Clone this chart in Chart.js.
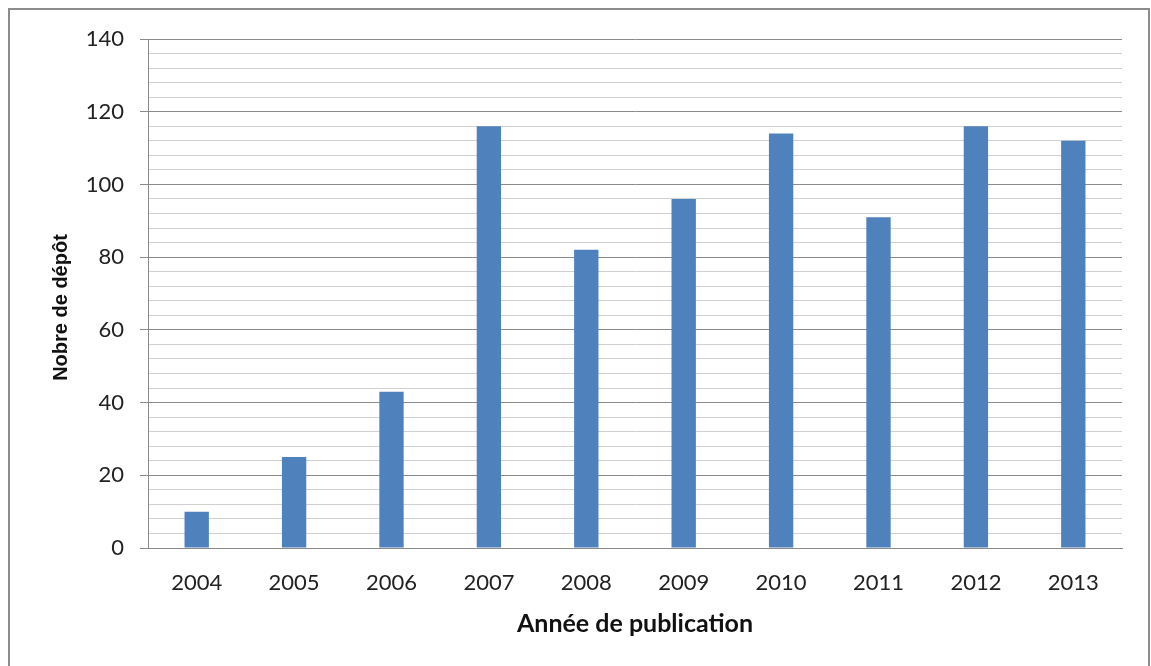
<!DOCTYPE html>
<html>
<head>
<meta charset="utf-8">
<script src="https://cdn.jsdelivr.net/npm/chart.js@4"></script>
<style>
  html, body { margin: 0; padding: 0; background: #fff; }
  .wrap { position: relative; width: 1151px; height: 666px; overflow: hidden; }
  .frame { position: absolute; left: 8px; top: 8px; width: 1138px; height: 700px; border: 2px solid #8c8c8c; }
  canvas { position: absolute; left: 0; top: 0; }
</style>
</head>
<body>
<div class="wrap">
  <div class="frame"></div>
  <canvas id="chart" width="1151" height="666"></canvas>
</div>
<script>
  const years = ["2004", "2005", "2006", "2007", "2008", "2009", "2010", "2011", "2012", "2013"];
  const deposits = [10, 25, 43, 116, 82, 96, 114, 91, 116, 112];
  const yTicks = [0, 20, 40, 60, 80, 100, 120, 140];
  const yTitle = "Nobre de dépôt";
  const xTitle = "Année de publication";

  const fontFamily = "Lato, 'Open Sans', sans-serif";

  function isMajor(value) {
    return yTicks.includes(value);
  }

  // y title sits a bit below the axis centre in the original, so draw it by hand
  const yTitlePlugin = {
    id: "yTitle",
    afterDraw(chart) {
      const { ctx, chartArea } = chart;
      ctx.save();
      ctx.translate(61, (chartArea.top + chartArea.bottom) / 2 + 14);
      ctx.rotate(-Math.PI / 2);
      ctx.font = "bold 20px 'Liberation Sans', Arial, sans-serif";
      ctx.fillStyle = "#111";
      ctx.textAlign = "center";
      ctx.textBaseline = "middle";
      ctx.fillText(yTitle, 0, 0);
      ctx.restore();
    },
  };

  new Chart(document.getElementById("chart"), {
    type: "bar",
    data: {
      labels: years,
      datasets: [
        {
          label: yTitle,
          data: deposits,
          backgroundColor: "#4f81bd",
          categoryPercentage: 1,
          barPercentage: 0.25,
        },
      ],
    },
    options: {
      responsive: false,
      animation: false,
      layout: { padding: { left: 0, top: 39, right: 29, bottom: 0 } },
      plugins: { legend: { display: false }, tooltip: { enabled: false } },
      scales: {
        x: {
          grid: { display: false, drawTicks: false },
          border: { display: true, color: "#8a8a8a" },
          ticks: { color: "#222", padding: 22, autoSkip: false, maxRotation: 0, font: { family: fontFamily, size: 22 } },
          title: {
            display: true,
            text: xTitle,
            color: "#111",
            font: { family: fontFamily, size: 25, weight: "bold" },
            padding: { top: 0, bottom: 27 },
          },
          afterFit: (scale) => { scale.height = 118; },
        },
        y: {
          min: 0,
          max: 140,
          ticks: {
            stepSize: 4,
            autoSkip: false,
            color: "#222",
            padding: 16,
            font: { family: fontFamily, size: 22 },
            callback: (value) => (isMajor(value) ? String(value) : ""),
          },
          grid: {
            color: (ctx) => (isMajor(ctx.tick.value) ? "#8a8a8a" : "#d0d0d0"),
            tickColor: (ctx) => (isMajor(ctx.tick.value) ? "#8a8a8a" : "rgba(0,0,0,0)"),
            tickLength: 8,
          },
          border: { display: true, color: "#8a8a8a" },
          afterFit: (scale) => { scale.width = 148; },
        },
      },
    },
    plugins: [yTitlePlugin],
  });
</script>
</body>
</html>
